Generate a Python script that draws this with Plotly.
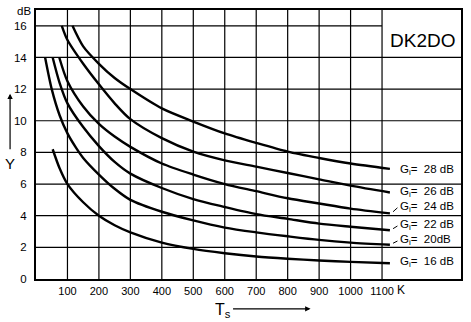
import plotly.graph_objects as go

# Noise temperature Ts (K) vs. Y factor (dB) for several IF gains Gi
gain_labels = ["28 dB", "26 dB", "24 dB", "22 dB", "20dB", "16 dB"]

g28_t = [116, 150, 200, 250, 300, 400, 500, 600, 700, 800, 900, 1000, 1125]
g28_y = [16.0, 14.7, 13.6, 12.7, 12.0, 10.78, 9.95, 9.2, 8.6, 8.05, 7.65, 7.3, 6.96]

g26_t = [82, 100, 150, 200, 250, 300, 400, 500, 600, 700, 800, 900, 1000, 1125]
g26_y = [16.0, 15.1, 13.6, 12.3, 11.1, 10.1, 8.9, 8.05, 7.5, 7.1, 6.7, 6.3, 5.9, 5.47]

g24_t = [74, 100, 150, 200, 250, 300, 400, 500, 600, 700, 800, 900, 1000, 1125]
g24_y = [14.0, 12.5, 10.9, 9.8, 9.0, 8.35, 7.3, 6.6, 6.0, 5.55, 5.1, 4.77, 4.45, 4.15]

g22_t = [53, 75, 100, 150, 200, 250, 300, 400, 500, 600, 700, 800, 900, 1000, 1125]
g22_y = [14.0, 12.4, 11.1, 9.6, 8.4, 7.4, 6.66, 5.75, 5.05, 4.55, 4.1, 3.8, 3.5, 3.3, 3.08]

g20_t = [29, 50, 75, 100, 127, 150, 200, 250, 300, 400, 500, 600, 700, 800, 900, 1000, 1125]
g20_y = [14.0, 12.0, 10.35, 9.2, 8.3, 7.65, 6.6, 5.7, 5.0, 4.25, 3.7, 3.25, 2.95, 2.7, 2.47, 2.3, 2.16]

g16_t = [53, 75, 100, 150, 200, 250, 300, 400, 500, 600, 700, 800, 900, 1000, 1125]
g16_y = [8.2, 7.0, 6.0, 4.85, 4.0, 3.4, 2.95, 2.3, 1.9, 1.63, 1.42, 1.28, 1.17, 1.08, 1.0]

curves_t = [g28_t, g26_t, g24_t, g22_t, g20_t, g16_t]
curves_y = [g28_y, g26_y, g24_y, g22_y, g20_y, g16_y]

# label baselines (dB) on the right margin; True where a short leader is drawn
label_pos = [6.86, 5.5, 4.55, 3.4, 2.45, 1.08]
label_leader = [False, False, True, True, True, False]

x_ticks = [100, 200, 300, 400, 500, 600, 700, 800, 900, 1000, 1100]
y_ticks = [0, 2, 4, 6, 8, 10, 12, 14, 16]

X_MAX = 1351
Y_MAX = 17
GRID_END = 1100
LABEL_X = 1152

NARROW = "Liberation Sans Narrow, Liberation Sans, Arial, sans-serif"
PLAIN = "Liberation Sans, Arial, sans-serif"

fig = go.Figure()

for t, y in zip(curves_t, curves_y):
    fig.add_trace(go.Scatter(
        x=t, y=y, mode="lines",
        line=dict(color="black", width=2.4, shape="spline", smoothing=0.8),
        hoverinfo="skip", showlegend=False,
    ))

shapes = []
grid = dict(color="black", width=1.2)
for xv in x_ticks:
    shapes.append(dict(type="line", xref="x", yref="y", x0=xv, x1=xv,
                       y0=0, y1=Y_MAX, line=grid, layer="below"))
for yv in y_ticks[1:]:
    # the top line stops at 1100 K, leaving room for the call sign box
    x_end = GRID_END if yv == y_ticks[-1] else X_MAX
    shapes.append(dict(type="line", xref="x", yref="y", x0=0, x1=x_end,
                       y0=yv, y1=yv, line=grid, layer="below"))

annotations = []
for t, y, lab, ly, lead in zip(curves_t, curves_y, gain_labels, label_pos, label_leader):
    annotations.append(dict(
        x=LABEL_X, y=ly, xref="x", yref="y", xanchor="left", yanchor="middle",
        text="G<sub>i</sub>=  " + lab, showarrow=False,
        font=dict(family=NARROW, size=11.5, color="black"),
    ))
    if lead:
        shapes.append(dict(type="line", xref="x", yref="y",
                           x0=t[-1] + 10, y0=y[-1] + 0.1,
                           x1=LABEL_X - 3, y1=ly - 0.05,
                           line=dict(color="black", width=1)))


def note(x, y, text, size, family=NARROW, **kw):
    d = dict(x=x, y=y, xref="paper", yref="paper", text=text, showarrow=False,
             xanchor="center", yanchor="middle",
             font=dict(family=family, size=size, color="black"))
    d.update(kw)
    return d


annotations += [
    dict(x=1228, y=15.05, xref="x", yref="y", text="DK2DO", showarrow=False,
         xanchor="center", yanchor="middle",
         font=dict(family=PLAIN, size=19, color="black")),
    note(-0.028, 0.996, "dB", 11.5),
    note(0.859, -0.041, "K", 12),
    note(-0.061, 0.43, "Y", 15, PLAIN),
    note(0.44, -0.118, "T<sub>s</sub>", 16, PLAIN),
    dict(x=-0.061, y=0.689, xref="paper", yref="paper", text="", showarrow=True,
         ax=0, ay=57, arrowhead=2, arrowsize=0.9, arrowwidth=1.2, arrowcolor="black"),
    dict(x=0.646, y=-0.111, xref="paper", yref="paper", text="", showarrow=True,
         ax=-79, ay=0, arrowhead=2, arrowsize=0.9, arrowwidth=1.2, arrowcolor="black"),
]

fig.update_layout(
    width=471, height=322,
    margin=dict(l=36, r=8, t=9, b=43),
    paper_bgcolor="white", plot_bgcolor="white",
    shapes=shapes, annotations=annotations,
    showlegend=False,
)
fig.update_xaxes(
    range=[0, X_MAX], tickvals=x_ticks, ticktext=[str(v) for v in x_ticks],
    showgrid=False, zeroline=False, ticks="",
    showline=True, mirror=True, linecolor="black", linewidth=2,
    tickfont=dict(family=NARROW, size=11, color="black"),
    ticklabelstandoff=1,
)
fig.update_yaxes(
    range=[0, Y_MAX], tickvals=y_ticks, ticktext=[str(v) for v in y_ticks],
    showgrid=False, zeroline=False, ticks="",
    showline=True, mirror=True, linecolor="black", linewidth=2,
    tickfont=dict(family=NARROW, size=11.5, color="black"),
    ticklabelstandoff=5,
)

fig.write_html("out.html")
